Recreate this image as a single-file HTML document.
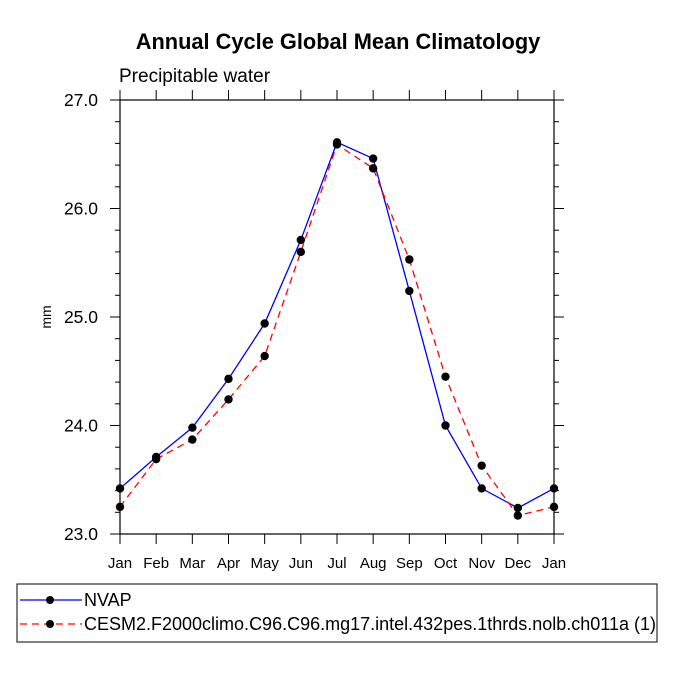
<!DOCTYPE html>
<html><head><meta charset="utf-8"><style>
body{margin:0;background:#fff}
svg text{font-family:"Liberation Sans",Arial,sans-serif}
</style></head><body>
<svg id="chart" width="675" height="675">
<text x="338" y="49" text-anchor="middle" font-size="21.8" font-weight="bold">Annual Cycle Global Mean Climatology</text>
<text x="119" y="82" font-size="19">Precipitable water</text>
<text transform="translate(51,317) rotate(-90)" text-anchor="middle" font-size="14">mm</text>
<g id="axes"></g>
<g id="series"></g>
<g>
<rect x="17" y="584" width="640" height="58" fill="none" stroke="#000" stroke-width="1"/>
<line x1="20" y1="600" x2="82" y2="600" stroke="#0000ff" stroke-width="1.3"/>
<circle cx="50" cy="600" r="4" fill="#000"/>
<text x="84" y="606" font-size="18">NVAP</text>
<line x1="20" y1="624" x2="82" y2="624" stroke="#ff0000" stroke-width="1.3" stroke-dasharray="7,5"/>
<circle cx="50" cy="624" r="4" fill="#000"/>
<text x="84" y="630" font-size="18" textLength="572" lengthAdjust="spacingAndGlyphs">CESM2.F2000climo.C96.C96.mg17.intel.432pes.1thrds.nolb.ch011a (1)</text>
</g>
</svg>
<script>
const months=["Jan","Feb","Mar","Apr","May","Jun","Jul","Aug","Sep","Oct","Nov","Dec","Jan"];
const nvap=[23.42,23.71,23.98,24.43,24.94,25.71,26.61,26.46,25.24,24.00,23.42,23.24,23.42];
const cesm=[23.25,23.69,23.87,24.24,24.64,25.60,26.59,26.37,25.53,24.45,23.63,23.17,23.25];
const yTicks=[23.0,24.0,25.0,26.0,27.0];
const NS="http://www.w3.org/2000/svg";
const L=120,R=554,T=100,B=534,ymin=23,ymax=27;
const xs=i=>L+(R-L)*i/(months.length-1);
const ys=v=>B-(v-ymin)/(ymax-ymin)*(B-T);
function mk(tag,attrs,parent){const e=document.createElementNS(NS,tag);for(const k in attrs)e.setAttribute(k,attrs[k]);parent.appendChild(e);return e;}
const ax=document.getElementById('axes');
const frame=mk('rect',{x:L,y:T,width:R-L,height:B-T,fill:'none',stroke:'#000','stroke-width':1.2},ax);


months.forEach((m,i)=>{const x=xs(i);
mk('line',{x1:x,y1:B,x2:x,y2:B+10,stroke:'#000'},ax);
mk('line',{x1:x,y1:T,x2:x,y2:T-10,stroke:'#000'},ax);
const t=mk('text',{x:x,y:B+34,'text-anchor':'middle','font-size':15},ax);t.textContent=m;

});
for(let v=ymin;v<=ymax+1e-9;v+=0.2){const y=ys(v);const major=Math.abs(v-Math.round(v))<1e-6;const len=major?10:5;
mk('line',{x1:L,y1:y,x2:L-len,y2:y,stroke:'#000'},ax);
mk('line',{x1:R,y1:y,x2:R+len,y2:y,stroke:'#000'},ax);}
yTicks.forEach(v=>{const t=mk('text',{x:L-22,y:ys(v)+6,'text-anchor':'end','font-size':17.5},ax);t.textContent=v.toFixed(1);

});
const sg=document.getElementById('series');
function draw(vals,color,dash,name){
const p=mk('polyline',{points:vals.map((v,i)=>xs(i)+','+ys(v)).join(' '),fill:'none',stroke:color,'stroke-width':1.3,'stroke-dasharray':dash},sg);


vals.forEach((v,i)=>{const c=mk('circle',{cx:xs(i),cy:ys(v),r:4.2,fill:'#000'},sg);

});}
draw(nvap,'#0000ff','none','nvap');
draw(cesm,'#ff0000','7,5','cesm');
</script>
</body></html>
